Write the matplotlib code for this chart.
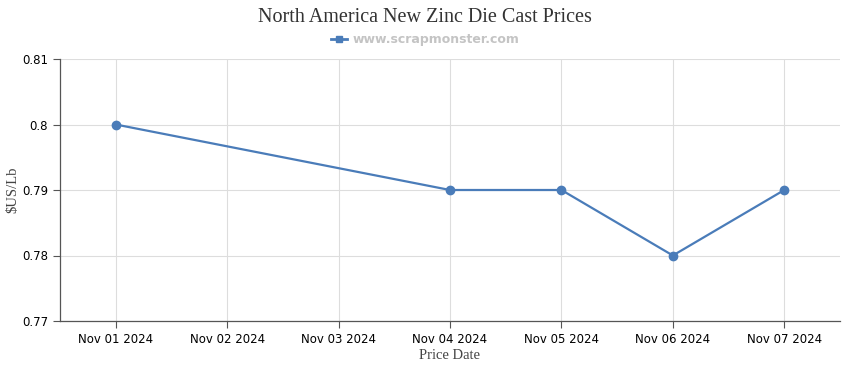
import numpy as np
import pandas as pd
import matplotlib.pyplot as plt
from matplotlib.lines import Line2D

dates = ["Nov 01 2024", "Nov 02 2024", "Nov 03 2024", "Nov 04 2024",
         "Nov 05 2024", "Nov 06 2024", "Nov 07 2024"]
price_dates = ["Nov 01 2024", "Nov 04 2024", "Nov 05 2024", "Nov 06 2024", "Nov 07 2024"]
prices = [0.80, 0.79, 0.79, 0.78, 0.79]
yticks = [0.77, 0.78, 0.79, 0.80, 0.81]
ylabels = ["0.77", "0.78", "0.79", "0.8", "0.81"]

serif = ["Liberation Serif", "DejaVu Serif"]
color = "#4a7cb9"

fig = plt.figure(figsize=(8.5, 3.7), dpi=100)
ax = fig.add_axes([60/850, 49/370, 780/850, 262/370])

xs = [dates.index(d) for d in price_dates]
ax.plot(xs, prices, color=color, lw=1.6, marker="o", ms=6, zorder=3)

ax.set_xlim(-0.5, 6.5)
ax.set_ylim(0.77, 0.81)
ax.set_xticks(range(len(dates)))
ax.set_xticklabels(dates)
ax.set_yticks(yticks)
ax.set_yticklabels(ylabels)
ax.tick_params(labelsize=8.5, length=5, width=0.8, colors="#555555", labelcolor="black")
ax.grid(True, color="#dddddd", lw=0.8)
ax.set_axisbelow(True)
for s in ["top", "right"]:
    ax.spines[s].set_visible(False)
for s in ["left", "bottom"]:
    ax.spines[s].set_color("#555555")
    ax.spines[s].set_linewidth(0.9)

ax.set_xlabel("Price Date", family=serif, fontsize=10.5, color="#444444", labelpad=2)
ax.set_ylabel("$US/Lb", family=serif, fontsize=10.5, color="#444444")
ax.yaxis.set_label_coords(-0.052, 0.5)

fig.text(0.5, 1 - 17/370, "North America New Zinc Die Cast Prices", family=serif,
         fontsize=14.5, color="#333333", ha="center", va="center")

handle = Line2D([], [], color=color, lw=2, marker="s", ms=5)
leg = fig.legend([handle], ["www.scrapmonster.com"], loc="center",
                 bbox_to_anchor=(0.5, 1 - 40/370), frameon=False,
                 handlelength=1.3, handletextpad=0.4, prop={"weight": "bold", "size": 9})
for t in leg.get_texts():
    t.set_color("#c4c4c4")

fig.savefig("out.png", dpi=100)
